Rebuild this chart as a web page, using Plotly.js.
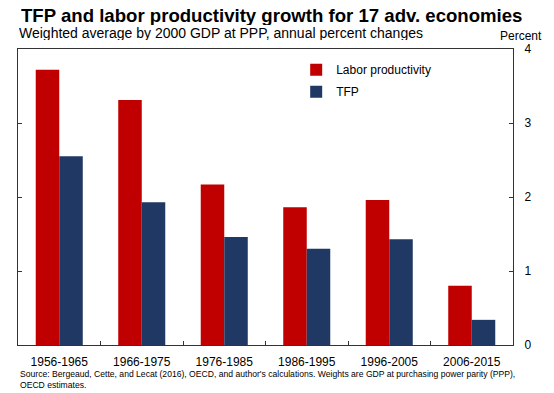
<!DOCTYPE html>
<html>
<head>
<meta charset="utf-8">
<script src="https://cdn.plot.ly/plotly-3.0.1.min.js"></script>
<style>html,body{margin:0;padding:0;background:#fff;}#chart{width:554px;height:393px;}</style>
</head>
<body>
<div id="chart"></div>
<script>
const periods = ["1956-1965", "1966-1975", "1976-1985", "1986-1995", "1996-2005", "2006-2015"];
const laborProductivity = [3.72, 3.31, 2.17, 1.86, 1.96, 0.80];
const tfp = [2.55, 1.93, 1.46, 1.30, 1.43, 0.34];
const yTicks = [0, 1, 2, 3, 4];

const FONT = "Liberation Sans, Arial, sans-serif";
const AX = "#333333";

const traces = [
  {type: "bar", name: "Labor productivity", x: periods, y: laborProductivity,
   marker: {color: "#C00000"}, legendgroup: "a"},
  {type: "bar", name: "TFP", x: periods, y: tfp,
   marker: {color: "#1F3864"}, legendgroup: "b"}
];

const layout = {
  width: 554, height: 393,
  margin: {l: 18, r: 41, t: 49, b: 48, pad: 0},
  paper_bgcolor: "#fff", plot_bgcolor: "#fff",
  font: {family: FONT, color: "#000", size: 12},
  barmode: "group", bargap: 0.43, bargroupgap: 0,
  showlegend: true,
  legend: {x: 0.562, y: 0.979, xanchor: "left", yanchor: "top",
           bgcolor: "rgba(0,0,0,0)", font: {size: 12, family: FONT},
           traceorder: "grouped", tracegroupgap: 3},
  xaxis: {type: "category", showline: true, linecolor: AX, linewidth: 1, mirror: true,
          ticks: "inside", tickson: "boundaries", ticklen: 4, tickcolor: AX,
          showgrid: false, zeroline: false, tickfont: {size: 12, family: FONT},
          ticklabelstandoff: 6},
  yaxis: {side: "right", range: [0, 4], tickvals: yTicks, ticktext: yTicks.map(String),
          showline: true, linecolor: AX, linewidth: 1, mirror: "ticks",
          ticks: "inside", ticklen: 4, tickcolor: AX, showgrid: false, zeroline: false,
          tickfont: {size: 12, family: FONT}, ticklabelstandoff: 8},
  annotations: [
    {text: "<b>TFP and labor productivity growth for 17 adv. economies</b>",
     xref: "paper", yref: "paper", x: 0, y: 1, xanchor: "left", yanchor: "middle",
     xshift: 1, yshift: 34, height: 19, showarrow: false, font: {size: 18.6, family: FONT, color: "#000"}},
    {text: "Weighted average by 2000 GDP at PPP, annual percent changes",
     xref: "paper", yref: "paper", x: 0, y: 1, xanchor: "left", yanchor: "middle",
     xshift: -1, yshift: 16, height: 14, showarrow: false, font: {size: 14, family: FONT, color: "#000"}},
    {text: "Percent",
     xref: "paper", yref: "paper", x: 1, y: 1, xanchor: "left", yanchor: "middle",
     xshift: -15, yshift: 13, showarrow: false, font: {size: 12, family: FONT, color: "#000"}},
    {text: "Source: Bergeaud, Cette, and Lecat (2016), OECD, and author's calculations. Weights are GDP at purchasing power parity (PPP),<br>OECD estimates.",
     xref: "paper", yref: "paper", x: 0, y: 0, xanchor: "left", yanchor: "top", align: "left",
     xshift: 0, yshift: -22, showarrow: false, font: {size: 8.6, family: FONT, color: "#000"}}
  ]
};

Plotly.newPlot("chart", traces, layout, {displayModeBar: false, staticPlot: true});
</script>
</body>
</html>
